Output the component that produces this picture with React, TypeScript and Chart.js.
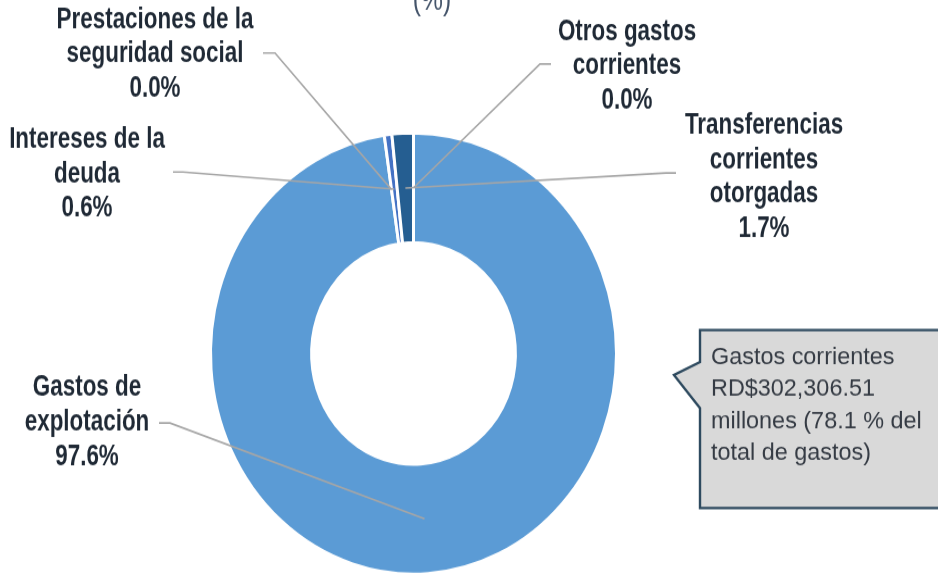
import React, { useEffect, useRef } from "react";
import { Chart, registerables } from "chart.js";

Chart.register(...registerables);

// ---- Data ----
const categories = [
  "Gastos de explotación",
  "Prestaciones de la seguridad social",
  "Intereses de la deuda",
  "Transferencias corrientes otorgadas",
  "Otros gastos corrientes",
];
const shares = [97.6, 0.0, 0.6, 1.7, 0.0];
const labelLines = [
  ["Gastos de", "explotación"],
  ["Prestaciones de la", "seguridad social"],
  ["Intereses de la", "deuda"],
  ["Transferencias", "corrientes", "otorgadas"],
  ["Otros gastos", "corrientes"],
];
const calloutLines = [
  "Gastos corrientes",
  "RD$302,306.51",
  "millones (78.1 % del",
  "total de gastos)",
];
const titleTail = "(%)";

// ---- Styling / layout ----
const SY = 1.087; // vertical stretch of the whole picture
const W = 938;
const H = 540;
const colors = ["#5B9BD5", "#ED7D31", "#4472C4", "#255E91", "#A5A5A5"];
const TEXT = "#1F2935";
const LEADER = "#A6A6A6";

// label layout (screen coordinates: center x, first line y, line start, elbow)
const labelLayout = [
  { cx: 87, y0: 388, sx: 159, sy: 423, ex: 170, ey: 423 },
  { cx: 155, y0: 20, sx: 263, sy: 53, ex: 275, ey: 53 },
  { cx: 87, y0: 140, sx: 173, sy: 172, ex: 183, ey: 172 },
  { cx: 764, y0: 126, sx: 676, sy: 173, ex: 666, ey: 173 },
  { cx: 627, y0: 32, sx: 551, sy: 64, ex: 540, ey: 64 },
];
const LINE_STEP = 34.3; // screen px

function drawText(ctx: CanvasRenderingContext2D, text: string, x: number, y: number, hs: number) {
  ctx.save();
  ctx.translate(x, y);
  ctx.scale(hs, 1);
  ctx.fillText(text, 0, 0);
  ctx.restore();
}

const annotations = {
  id: "annotations",
  afterDraw(chart: any) {
    const ctx: CanvasRenderingContext2D = chart.ctx;
    const meta = chart.getDatasetMeta(0);
    ctx.save();

    // title tail "(%)"
    ctx.fillStyle = "#44546A";
    ctx.font = "29px 'Liberation Sans', Arial, sans-serif";
    ctx.textAlign = "center";
    ctx.textBaseline = "alphabetic";
    drawText(ctx, titleTail, 432, 9, 0.85);

    // leader lines + labels
    categories.forEach((_, i) => {
      const L = labelLayout[i];
      const arc = meta.data[i];
      const p = arc.getCenterPoint();
      ctx.strokeStyle = LEADER;
      ctx.lineWidth = 1.6;
      ctx.beginPath();
      ctx.moveTo(L.sx, L.sy / SY);
      ctx.lineTo(L.ex, L.ey / SY);
      ctx.lineTo(p.x, p.y);
      ctx.stroke();

      const lines = [...labelLines[i], shares[i].toFixed(1) + "%"];
      ctx.fillStyle = TEXT;
      ctx.font = "bold 27px 'Liberation Sans', Arial, sans-serif";
      ctx.textAlign = "center";
      ctx.textBaseline = "middle";
      lines.forEach((t, k) => {
        drawText(ctx, t, L.cx, (L.y0 + k * LINE_STEP) / SY, 0.83);
      });
    });

    // callout box
    const top = 330 / SY;
    const bot = 508 / SY;
    ctx.beginPath();
    ctx.moveTo(700, top);
    ctx.lineTo(W + 20, top);
    ctx.lineTo(W + 20, bot);
    ctx.lineTo(700, bot);
    ctx.lineTo(700, 408 / SY);
    ctx.lineTo(674, 375 / SY);
    ctx.lineTo(700, 362 / SY);
    ctx.closePath();
    ctx.fillStyle = "#D9D9D9";
    ctx.fill();
    ctx.strokeStyle = "#2E4A5F";
    ctx.lineWidth = 2.4;
    ctx.lineJoin = "miter";
    ctx.stroke();

    ctx.fillStyle = "#353B44";
    ctx.font = "22.5px 'Liberation Sans', Arial, sans-serif";
    ctx.textAlign = "left";
    ctx.textBaseline = "middle";
    calloutLines.forEach((t, k) => {
      drawText(ctx, t, 711, (357 + k * 32) / SY, 1.04);
    });

    ctx.restore();
  },
};

export default function App() {
  const ref = useRef<HTMLCanvasElement | null>(null);

  useEffect(() => {
    if (!ref.current) return;
    const cx = 413.5;
    const cy = 353.5 / SY;
    const half = 210;
    const chart = new Chart(ref.current, {
      type: "doughnut",
      data: {
        labels: categories,
        datasets: [
          {
            data: shares,
            backgroundColor: colors,
            borderColor: "#FFFFFF",
            borderWidth: 3,
          },
        ],
      },
      options: {
        responsive: false,
        animation: false,
        devicePixelRatio: 1,
        radius: 203,
        cutout: "50.2%",
        layout: {
          padding: {
            left: cx - half,
            right: W - (cx + half),
            top: cy - half,
            bottom: H - (cy + half),
          },
        },
        plugins: {
          legend: { display: false },
          title: { display: false },
          tooltip: { enabled: false },
        },
      } as any,
      plugins: [annotations],
    });
    return () => chart.destroy();
  }, []);

  return (
    <div
      style={{
        position: "fixed",
        left: 0,
        top: 0,
        width: W,
        height: 573,
        overflow: "hidden",
        background: "#FFFFFF",
      }}
    >
      <canvas
        ref={ref}
        width={W}
        height={H}
        style={{
          display: "block",
          width: W,
          height: H,
          transform: `scaleY(${SY})`,
          transformOrigin: "0 0",
        }}
      />
    </div>
  );
}
